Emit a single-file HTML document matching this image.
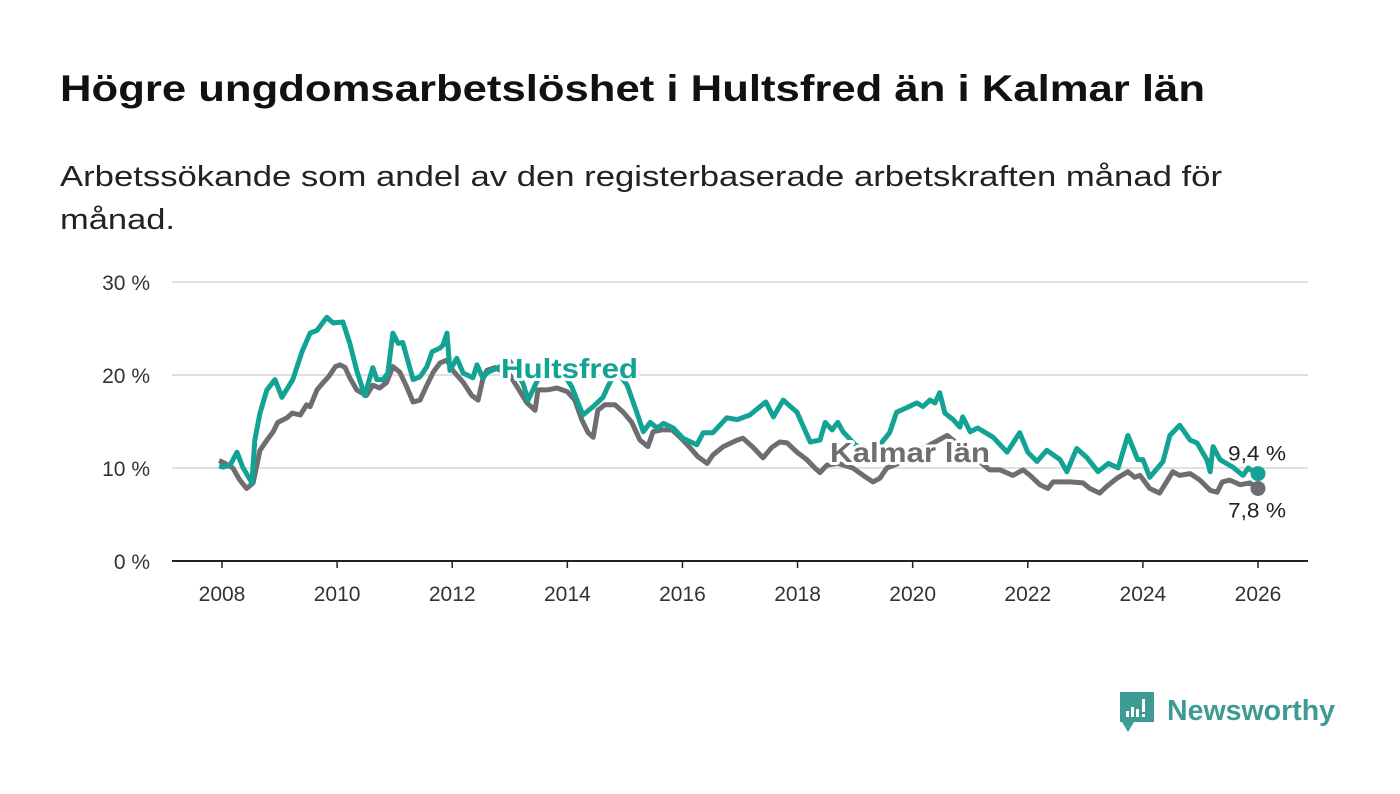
<!DOCTYPE html>
<html><head><meta charset="utf-8">
<style>
html,body{margin:0;padding:0;background:#fff;width:1400px;height:794px;overflow:hidden}
svg{display:block}
text{font-family:"Liberation Sans","DejaVu Sans",sans-serif}
</style></head>
<body>
<svg id="chart" width="1400" height="794" viewBox="0 0 1400 794">
<text x="60" y="101" font-size="37" font-weight="bold" fill="#111" textLength="1145" lengthAdjust="spacingAndGlyphs">Högre ungdomsarbetslöshet i Hultsfred än i Kalmar län</text>
<text x="60" y="186" font-size="29" fill="#222" textLength="1162" lengthAdjust="spacingAndGlyphs">Arbetssökande som andel av den registerbaserade arbetskraften månad för</text>
<text x="60" y="229" font-size="29" fill="#222" textLength="115" lengthAdjust="spacingAndGlyphs">månad.</text>
<g id="grid"></g>
<g id="yticks"></g>
<g id="xticks"></g>
<g id="series"></g>
<g id="labels"></g>
<g>
<path d="M1120 692 h34 v30 h-20 l-6 10 l-6 -10 h-2 z" fill="#3d9b94"/>
<rect x="1126" y="711" width="3" height="6" fill="#fff"/><rect x="1131" y="707" width="3" height="10" fill="#fff"/><rect x="1136" y="709" width="3" height="8" fill="#fff"/><rect x="1142" y="699" width="3" height="13" fill="#fff"/><rect x="1142" y="714" width="3" height="3" fill="#fff"/>
<text x="1167" y="720" font-size="29" font-weight="bold" fill="#3d9b94" textLength="168" lengthAdjust="spacingAndGlyphs">Newsworthy</text>
</g>
</svg>
<script>
const hultYears=[2007.95,2008.02,2008.14,2008.26,2008.36,2008.52,2008.57,2008.66,2008.78,2008.92,2009.04,2009.23,2009.39,2009.53,2009.65,2009.82,2009.93,2010.1,2010.22,2010.34,2010.48,2010.62,2010.69,2010.8,2010.88,2010.97,2011.06,2011.14,2011.32,2011.44,2011.56,2011.65,2011.79,2011.84,2011.91,2011.96,2012.08,2012.19,2012.36,2012.43,2012.53,2012.62,2012.8,2013.0,2013.23,2013.32,2013.6,2013.9,2014.08,2014.27,2014.45,2014.62,2014.7,2014.85,2015.04,2015.21,2015.32,2015.44,2015.56,2015.67,2015.84,2016.01,2016.25,2016.36,2016.53,2016.77,2016.95,2017.17,2017.35,2017.45,2017.58,2017.75,2017.99,2018.22,2018.39,2018.48,2018.6,2018.7,2018.79,2019.0,2019.3,2019.6,2019.72,2019.9,2020.07,2020.18,2020.3,2020.39,2020.47,2020.56,2020.7,2020.82,2020.87,2021.0,2021.13,2021.4,2021.64,2021.86,2022.0,2022.16,2022.33,2022.56,2022.68,2022.85,2023.03,2023.22,2023.4,2023.57,2023.74,2023.91,2024.0,2024.12,2024.35,2024.47,2024.64,2024.82,2024.94,2025.11,2025.17,2025.22,2025.34,2025.56,2025.74,2025.83,2025.92,2026.0];
const hultValues=[10.2,10.1,10.3,11.7,10.1,8.4,13.0,15.9,18.4,19.5,17.6,19.5,22.5,24.5,24.8,26.2,25.6,25.7,23.4,20.5,17.8,20.8,19.5,19.5,20.2,24.5,23.4,23.5,19.5,19.8,20.9,22.5,22.9,23.2,24.5,20.5,21.8,20.2,19.7,21.1,19.7,20.3,20.8,21.5,19.1,17.3,21.0,20.5,18.7,15.7,16.6,17.6,18.7,20.5,18.9,15.9,13.9,14.9,14.3,14.8,14.3,13.2,12.5,13.8,13.8,15.4,15.2,15.7,16.6,17.1,15.5,17.3,16.0,12.8,13.0,14.9,14.1,14.9,13.9,12.5,11.5,13.8,16.0,16.5,17.0,16.6,17.3,17.0,18.1,15.9,15.2,14.4,15.5,13.9,14.3,13.3,11.7,13.8,11.7,10.7,11.9,10.9,9.6,12.1,11.1,9.6,10.5,10.0,13.5,10.9,10.9,9.0,10.7,13.5,14.6,13.0,12.7,10.9,9.6,12.3,10.9,10.1,9.2,10.0,9.6,9.4];
const kalYears=[2007.95,2008.02,2008.19,2008.31,2008.43,2008.54,2008.66,2008.78,2008.89,2008.97,2009.13,2009.22,2009.36,2009.47,2009.53,2009.65,2009.76,2009.85,2009.97,2010.05,2010.14,2010.22,2010.34,2010.51,2010.62,2010.74,2010.86,2010.97,2011.09,2011.21,2011.32,2011.44,2011.56,2011.67,2011.79,2011.91,2012.01,2012.19,2012.34,2012.45,2012.53,2012.6,2012.74,2013.0,2013.3,2013.44,2013.49,2013.65,2013.82,2014.0,2014.13,2014.25,2014.36,2014.45,2014.53,2014.65,2014.83,2014.97,2015.12,2015.26,2015.4,2015.49,2015.64,2015.82,2015.96,2016.13,2016.27,2016.43,2016.53,2016.71,2016.95,2017.05,2017.23,2017.4,2017.55,2017.69,2017.82,2017.99,2018.16,2018.3,2018.39,2018.51,2018.7,2018.96,2019.14,2019.31,2019.43,2019.55,2019.75,2020.0,2020.3,2020.6,2020.9,2021.1,2021.34,2021.52,2021.74,2021.92,2022.04,2022.21,2022.35,2022.44,2022.73,2022.96,2023.08,2023.25,2023.37,2023.55,2023.74,2023.86,2023.95,2024.12,2024.29,2024.41,2024.52,2024.64,2024.82,2024.99,2025.17,2025.29,2025.38,2025.51,2025.69,2025.86,2026.0];
const kalValues=[10.8,10.6,10.0,8.7,7.8,8.4,11.9,13.0,13.9,14.9,15.4,15.9,15.7,16.8,16.6,18.4,19.2,19.8,20.9,21.1,20.8,19.7,18.4,17.8,18.9,18.6,19.2,20.9,20.3,18.7,17.1,17.3,18.9,20.3,21.3,21.6,20.5,19.2,17.8,17.3,19.5,20.5,20.8,20.0,17.0,16.2,18.4,18.4,18.6,18.2,17.3,15.2,13.8,13.3,16.2,16.8,16.8,16.0,14.9,13.0,12.3,13.9,14.1,14.1,13.3,12.2,11.2,10.5,11.4,12.3,13.0,13.2,12.2,11.1,12.2,12.8,12.7,11.7,10.9,10.0,9.5,10.3,10.5,10.0,9.2,8.5,8.9,10.0,10.5,11.5,12.5,13.5,12.0,11.0,9.8,9.8,9.2,9.8,9.2,8.2,7.8,8.5,8.5,8.4,7.8,7.3,8.0,8.9,9.6,9.0,9.2,7.8,7.3,8.5,9.6,9.2,9.4,8.7,7.6,7.4,8.5,8.7,8.2,8.4,7.8];
const yTicks=[0,10,20,30];
const yTickLabels=["0 %","10 %","20 %","30 %"];
const xTicks=[2008,2010,2012,2014,2016,2018,2020,2022,2024,2026];
const endLabels=["9,4 %","7,8 %"];

const NS="http://www.w3.org/2000/svg";
const x=v=>222+(v-2008)*(1258-222)/18;
const y=v=>561-v*(561-282)/30;
function mk(tag,attrs,parent){const e=document.createElementNS(NS,tag);for(const k in attrs)e.setAttribute(k,attrs[k]);parent.appendChild(e);return e;}
const grid=document.getElementById('grid'),yt=document.getElementById('yticks'),xt=document.getElementById('xticks'),ser=document.getElementById('series'),lab=document.getElementById('labels');
yTicks.forEach((t,i)=>{
  const l=mk('line',{x1:172,x2:1308,y1:y(t),y2:y(t),stroke:t===0?'#222':'#d6d6d6','stroke-width':t===0?2:1.5},grid);
  
  
  const tx=mk('text',{x:150,y:y(t)+8,'text-anchor':'end','font-size':21,fill:'#333'},yt);
  tx.textContent=yTickLabels[i];
  
  
});
xTicks.forEach(t=>{
  const l=mk('line',{x1:x(t),x2:x(t),y1:561,y2:568,stroke:'#222','stroke-width':1.5},xt);
  
  
  const tx=mk('text',{x:x(t),y:601,'text-anchor':'middle','font-size':21,fill:'#333'},xt);
  tx.textContent=t;
  
  
});
function path(ys,vs){return ys.map((v,i)=>(i?'L':'M')+x(v).toFixed(1)+' '+y(vs[i]).toFixed(1)).join(' ');}
const pk=mk('path',{d:path(kalYears,kalValues),fill:'none',stroke:'#6e6d72','stroke-width':5,'stroke-linejoin':'round'},ser);


const ph=mk('path',{d:path(hultYears,hultValues),fill:'none',stroke:'#12a395','stroke-width':5,'stroke-linejoin':'round'},ser);


const kx=kalYears[kalYears.length-1],kv=kalValues[kalValues.length-1];
const hx=hultYears[hultYears.length-1],hv=hultValues[hultValues.length-1];
const dk=mk('circle',{cx:x(kx),cy:y(kv),r:7.5,fill:'#6e6d72'},ser);


const dh=mk('circle',{cx:x(hx),cy:y(hv),r:7.5,fill:'#12a395'},ser);


function label(txt,xx,yy,col,size,bold,anchor,name,len){
  const t=mk('text',{x:xx,y:yy,'font-size':size,'font-weight':bold?'bold':'normal',fill:col,stroke:'#fff','stroke-width':6,'paint-order':'stroke','stroke-linejoin':'round','text-anchor':anchor},lab);
  if(len){t.setAttribute('textLength',len);t.setAttribute('lengthAdjust','spacingAndGlyphs');}
  t.textContent=txt;
  
  
}
label('Hultsfred',501,378,'#12a395',28,true,'start','hultsfred-label',137);
label('Kalmar län',830,462,'#6e6d72',28,true,'start','kalmar-lan-label',160);
label(endLabels[0],x(hx)+28,y(hv)-13,'#222',21,false,'end','hultsfred-end-value',58);
label(endLabels[1],x(kx)+28,y(kv)+29,'#222',21,false,'end','kalmar-end-value',58);
</script>
</body></html>
